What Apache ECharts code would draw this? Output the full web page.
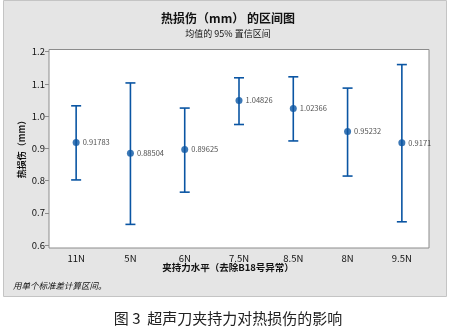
<!DOCTYPE html>
<html>
<head>
<meta charset="utf-8">
<script src="https://cdn.jsdelivr.net/npm/echarts@6/dist/echarts.min.js"></script>
<style>
  html, body { margin: 0; padding: 0; background: #ffffff; }
  #chart { width: 456px; height: 330px; }
</style>
</head>
<body>
<div id="chart"></div>
<script>
// Clamping force levels and the thermal damage interval data (mm)
const categories = ['11N', '5N', '6N', '7.5N', '8.5N', '8N', '9.5N'];
const means = [0.91783, 0.88504, 0.89625, 1.04826, 1.02366, 0.95232, 0.9171];
const upper = [1.032, 1.103, 1.025, 1.119, 1.122, 1.087, 1.160];
const lower = [0.802, 0.664, 0.764, 0.974, 0.923, 0.814, 0.672];
const meanLabels = ['0.91783', '0.88504', '0.89625', '1.04826', '1.02366', '0.95232', '0.9171'];
const yTicks = [0.6, 0.7, 0.8, 0.9, 1.0, 1.1, 1.2];

const FONT = '"Noto Sans CJK SC", "Noto Sans", sans-serif';
const BLUE = '#0a55a3';

const chart = echarts.init(document.getElementById('chart'), null, { renderer: 'canvas' });

const intervalData = categories.map((c, i) => [i, lower[i], upper[i]]);
const meanData = categories.map((c, i) => [i, means[i], meanLabels[i]]);

chart.setOption({
  animation: false,
  backgroundColor: '#ffffff',
  textStyle: { fontFamily: FONT },
  graphic: [
    {
      type: 'rect', z: -10, silent: true,
      shape: { x: 3.5, y: 0.5, width: 443, height: 296 },
      style: { fill: '#e5e5e5', stroke: '#c4c4c4', lineWidth: 1 }
    },
    {
      type: 'text', left: 'center', top: 12,
      style: { text: '热损伤（mm） 的区间图', font: 'bold 12px ' + FONT, fill: '#111' }
    },
    {
      type: 'text', left: 'center', top: 29,
      style: { text: '均值的 95% 置信区间', font: '9px ' + FONT, fill: '#111' }
    },
    {
      type: 'text', left: 'center', top: 263,
      style: { text: '夹持力水平（去除B18号异常）', font: 'bold 9.5px ' + FONT, fill: '#111' }
    },
    {
      type: 'text', left: 13, top: 282,
      style: { text: '用单个标准差计算区间。', font: 'italic 8.5px ' + FONT, fill: '#111' }
    },
    {
      type: 'text', x: 22, y: 147, rotation: Math.PI / 2,
      style: { text: '热损伤（mm）', font: 'bold 9px ' + FONT, fill: '#111', align: 'center', verticalAlign: 'middle' }
    },
    {
      type: 'text', left: 'center', top: 311,
      style: { text: '图 3  超声刀夹持力对热损伤的影响', font: '15px ' + FONT, fill: '#222' }
    }
  ],
  grid: {
    left: 49, top: 49.5, width: 380, height: 198.5,
    show: true, backgroundColor: '#ffffff', borderColor: '#8c8c8c', borderWidth: 1
  },
  xAxis: {
    type: 'category',
    data: categories,
    boundaryGap: true,
    axisLine: { show: false },
    axisTick: { show: false },
    axisLabel: { color: '#111', fontSize: 9.5, margin: 6, fontFamily: FONT },
    splitLine: { show: false }
  },
  yAxis: {
    type: 'value',
    min: 0.5907,
    max: 1.2068,
    axisLine: { show: false },
    axisTick: { show: true, length: 4, customValues: yTicks, lineStyle: { color: '#8c8c8c' } },
    axisLabel: {
      color: '#111', fontSize: 9.5, margin: 4, fontFamily: FONT,
      customValues: yTicks,
      formatter: v => Number(v).toFixed(1)
    },
    splitLine: { show: false }
  },
  series: [
    {
      type: 'custom',
      data: intervalData,
      encode: { x: 0, y: [1, 2] },
      renderItem: (params, api) => {
        const x = api.value(0);
        const lo = api.coord([x, api.value(1)]);
        const hi = api.coord([x, api.value(2)]);
        const half = 5;
        const style = { stroke: BLUE, lineWidth: 1.6, fill: null };
        return {
          type: 'group',
          children: [
            { type: 'line', shape: { x1: hi[0], y1: hi[1], x2: lo[0], y2: lo[1] }, style },
            { type: 'line', shape: { x1: hi[0] - half, y1: hi[1], x2: hi[0] + half, y2: hi[1] }, style },
            { type: 'line', shape: { x1: lo[0] - half, y1: lo[1], x2: lo[0] + half, y2: lo[1] }, style }
          ]
        };
      },
      z: 2
    },
    {
      type: 'scatter',
      data: meanData,
      symbol: 'circle',
      symbolSize: 7,
      itemStyle: { color: BLUE },
      label: {
        show: true,
        position: 'right',
        distance: 3,
        formatter: p => p.data[2],
        fontSize: 7.5,
        color: '#222',
        fontFamily: FONT
      },
      z: 3
    }
  ]
});
</script>
</body>
</html>
